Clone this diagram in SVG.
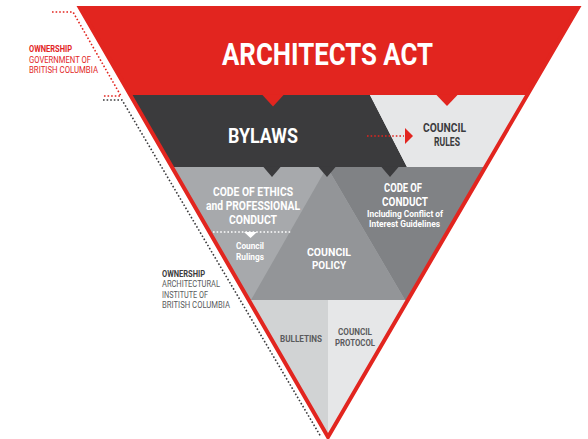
<svg xmlns="http://www.w3.org/2000/svg" width="588" height="439" viewBox="0 0 588 439">
<defs>
<clipPath id="tri"><polygon points="80,8 578,8 328,437"/></clipPath>
<style>
text{font-family:Roboto,"Liberation Sans",Arial,sans-serif;font-weight:bold;text-anchor:start}
.w{fill:#ffffff}
.d{fill:#3b3b3d}
.g{fill:#5a5b5d}
.r{fill:#e2251f}
.reg{font-weight:normal}
.dotr{stroke:#e2251f;stroke-width:1.6;stroke-dasharray:1.6 2;fill:none}
.dotk{stroke:#3b3b3d;stroke-width:1.6;stroke-dasharray:1.6 2;fill:none}
.dotw{stroke:#ffffff;stroke-width:1.4;stroke-dasharray:1.6 2;fill:none}
</style>
</defs>
<rect width="588" height="439" fill="#ffffff"/>
<g clip-path="url(#tri)">
<g id="architects-act-band"><rect x="0" y="0" width="588" height="95" fill="#e2251f"/></g>
<g id="bylaws-band"><polygon points="0,95 370,95 407,167 0,167" fill="#3b3b3d"/></g>
<g id="council-rules-band"><polygon points="370,95 588,95 588,167 407,167" fill="#e6e7e8"/></g>
<g id="code-of-ethics-band"><rect x="0" y="167" width="588" height="133" fill="#a7a9ac"/></g>
<g id="code-of-conduct-band"><polygon points="327,167 588,167 588,300 405,300" fill="#808285"/></g>
<g id="council-policy-band"><polygon points="327,167 405,300 251,300" fill="#939598"/></g>
<g id="bulletins-band"><rect x="0" y="300" width="328" height="139" fill="#d1d3d4"/></g>
<g id="council-protocol-band"><rect x="328" y="300" width="260" height="139" fill="#e6e7e8"/></g>
<g id="notches">
<polygon points="262,94.5 284,94.5 273,106.5" fill="#e2251f"/>
<polygon points="436,94.5 458,94.5 447,106" fill="#e2251f"/>
<polygon points="263,166.5 281,166.5 272,177" fill="#3b3b3d"/>
<polygon points="318,166.5 336,166.5 327,177" fill="#3b3b3d"/>
<polygon points="381,166.5 399,166.5 390,177" fill="#3b3b3d"/>
</g>
</g>
<polygon points="80,8 578,8 328,437" fill="none" stroke="#e2251f" stroke-width="4"/>

<g id="connectors">
<polyline class="dotr" points="52,12 73,12 121,96 102,96"/>
<polyline class="dotk" points="103,100 122,100 321,437"/>
<line class="dotr" x1="367" y1="136" x2="404" y2="136"/>
<polygon points="405,128 405,144 413,136" fill="#e2251f"/>
<line class="dotw" x1="213" y1="232" x2="292" y2="232"/>
<polygon points="244,232 257,232 250.5,238" fill="#ffffff"/>
</g>

<g id="architects-act"><text class="w" x="222" y="65" font-size="32" textLength="211" lengthAdjust="spacingAndGlyphs">ARCHITECTS ACT</text></g>
<g id="bylaws"><text class="w" x="228" y="143" font-size="20" textLength="70" lengthAdjust="spacingAndGlyphs">BYLAWS</text></g>
<g id="council-rules">
<text class="d" x="423" y="132" font-size="12.5" textLength="43" lengthAdjust="spacingAndGlyphs">COUNCIL</text>
<text class="d" x="434" y="146" font-size="12.5" textLength="26" lengthAdjust="spacingAndGlyphs">RULES</text>
</g>
<g id="code-of-ethics">
<text class="w" x="213" y="196" font-size="12" textLength="80" lengthAdjust="spacingAndGlyphs">CODE OF ETHICS</text>
<text class="w" x="206" y="210" font-size="12" textLength="94" lengthAdjust="spacingAndGlyphs">and PROFESSIONAL</text>
<text class="w" x="229" y="223.5" font-size="12" textLength="48" lengthAdjust="spacingAndGlyphs">CONDUCT</text>
</g>
<g id="council-rulings">
<text class="w" x="236" y="249" font-size="9.5" textLength="28" lengthAdjust="spacingAndGlyphs">Council</text>
<text class="w" x="236" y="260" font-size="9.5" textLength="28" lengthAdjust="spacingAndGlyphs">Rulings</text>
</g>
<g id="council-policy">
<text class="w" x="307" y="255.5" font-size="11.5" textLength="44" lengthAdjust="spacingAndGlyphs">COUNCIL</text>
<text class="w" x="312" y="268.5" font-size="11.5" textLength="34" lengthAdjust="spacingAndGlyphs">POLICY</text>
</g>
<g id="code-of-conduct">
<text class="w" x="384" y="191.5" font-size="12.5" textLength="38" lengthAdjust="spacingAndGlyphs">CODE OF</text>
<text class="w" x="382" y="205.7" font-size="12.5" textLength="46" lengthAdjust="spacingAndGlyphs">CONDUCT</text>
<text class="w" x="367" y="216.7" font-size="8.8" textLength="76" lengthAdjust="spacingAndGlyphs">Including Conflict of</text>
<text class="w" x="369" y="227.3" font-size="8.8" textLength="71" lengthAdjust="spacingAndGlyphs">Interest Guidelines</text>
</g>
<g id="ownership-government">
<text class="r" x="29" y="52" font-size="9.2" textLength="43" lengthAdjust="spacingAndGlyphs">OWNERSHIP</text>
<text class="r reg" x="29" y="62.5" font-size="9.2" textLength="62" lengthAdjust="spacingAndGlyphs">GOVERNMENT OF</text>
<text class="r reg" x="29" y="72.5" font-size="9.2" textLength="69" lengthAdjust="spacingAndGlyphs">BRITISH COLUMBIA</text>
</g>
<g id="ownership-institute">
<text class="d" x="162" y="277.3" font-size="9" textLength="43" lengthAdjust="spacingAndGlyphs">OWNERSHIP</text>
<text class="g reg" x="162" y="287.3" font-size="9" textLength="58" lengthAdjust="spacingAndGlyphs">ARCHITECTURAL</text>
<text class="g reg" x="162" y="297.5" font-size="9" textLength="46" lengthAdjust="spacingAndGlyphs">INSTITUTE OF</text>
<text class="g reg" x="162" y="307.5" font-size="9" textLength="68" lengthAdjust="spacingAndGlyphs">BRITISH COLUMBIA</text>
</g>
<g id="bulletins"><text class="g" x="280" y="342" font-size="9.5" textLength="42" lengthAdjust="spacingAndGlyphs">BULLETINS</text></g>
<g id="council-protocol">
<text class="g" x="338" y="335.3" font-size="9.5" textLength="34" lengthAdjust="spacingAndGlyphs">COUNCIL</text>
<text class="g" x="335" y="346" font-size="9.5" textLength="40" lengthAdjust="spacingAndGlyphs">PROTOCOL</text>
</g>
</svg>
